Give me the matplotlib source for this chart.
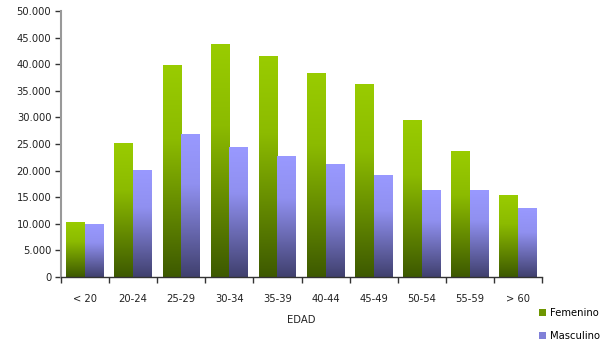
import numpy as np
import matplotlib.pyplot as plt
from matplotlib.colors import LinearSegmentedColormap
from matplotlib.patches import Patch
from matplotlib.ticker import FuncFormatter

categorias = ['< 20', '20-24', '25-29', '30-34', '35-39', '40-44', '45-49', '50-54', '55-59', '> 60']
femenino = [10200, 25000, 39700, 43700, 41400, 38200, 36200, 29400, 23500, 15300]
masculino = [9800, 20100, 26700, 24400, 22700, 21200, 19000, 16200, 16200, 12800]

verde = LinearSegmentedColormap.from_list('verde', [(0, '#3d5900'), (0.65, '#8cbb00'), (1, '#99cc00')])
azul = LinearSegmentedColormap.from_list('azul', [(0, '#40406e'), (0.65, '#9090f0'), (1, '#9999ff')])

fig = plt.figure(figsize=(6.06, 3.47), dpi=100)
ax = fig.add_axes([0.1007, 0.2017, 0.7937, 0.7666])

x = np.arange(len(categorias))
w = 0.39
grad = np.linspace(0, 1, 256).reshape(-1, 1)

for vals, cmap, off in [(femenino, verde, -w / 2), (masculino, azul, w / 2)]:
    bars = ax.bar(x + off, vals, width=w, color='none', edgecolor='none')
    for b in bars:
        x0, y0 = b.get_x(), b.get_y()
        ax.imshow(grad, cmap=cmap, origin='lower', aspect='auto',
                  extent=[x0, x0 + b.get_width(), y0, y0 + b.get_height()], zorder=2)

ax.set_xlim(-0.5, len(categorias) - 0.5)
ax.set_ylim(0, 50000)
ax.set_yticks(np.arange(0, 50001, 5000))
ax.yaxis.set_major_formatter(FuncFormatter(lambda v, p: f'{int(v):,}'.replace(',', '.')))
ax.set_xticks(x)
ax.set_xticklabels(categorias)
ax.set_xticks(np.arange(-0.5, len(categorias), 1), minor=True)
ax.tick_params(axis='x', which='major', length=0, pad=12)
ax.tick_params(axis='x', which='minor', length=4, width=1, color='#333333')
ax.tick_params(axis='y', length=4, width=1, color='#333333', pad=3)
ax.tick_params(labelsize=7.2, labelcolor='#222222')

for s in ['top', 'right']:
    ax.spines[s].set_visible(False)
ax.spines['bottom'].set_color('#333333')
ax.spines['bottom'].set_linewidth(1)
ax.spines['left'].set_color('#999999')
ax.spines['left'].set_linewidth(1.5)

ax.set_xlabel('EDAD', fontsize=7.2, color='#222222', labelpad=8)

handles = [Patch(facecolor='#6e9600', label='Femenino'),
           Patch(facecolor='#8080d8', label='Masculino')]
fig.legend(handles=handles, loc='lower right', bbox_to_anchor=(1.005, -0.01), frameon=False,
           fontsize=7.2, handlelength=0.7, handleheight=0.7, handletextpad=0.4, labelspacing=1.3)

fig.savefig('out.png', dpi=100)
